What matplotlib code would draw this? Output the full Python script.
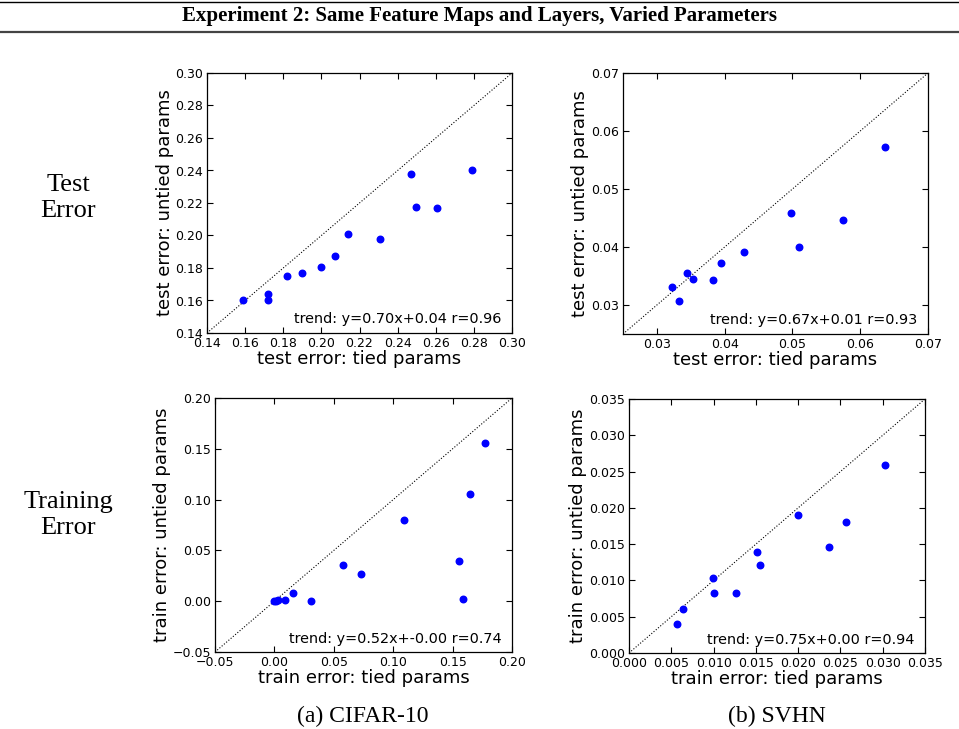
import matplotlib
matplotlib.use("Agg")
import matplotlib.pyplot as plt
from matplotlib.lines import Line2D

# CIFAR-10 test error (tied vs untied params)
cifar_test_tied = [0.159, 0.172, 0.172, 0.182, 0.190, 0.200, 0.207, 0.214, 0.231, 0.247, 0.2495, 0.2605, 0.279]
cifar_test_untied = [0.160, 0.164, 0.160, 0.175, 0.177, 0.1806, 0.1876, 0.2012, 0.1977, 0.2377, 0.2177, 0.2167, 0.2404]

# SVHN test error
svhn_test_tied = [0.0323, 0.0333, 0.0345, 0.0354, 0.0383, 0.0394, 0.0429, 0.0498, 0.0510, 0.0574, 0.0637]
svhn_test_untied = [0.0331, 0.0307, 0.0356, 0.0345, 0.0343, 0.0373, 0.0392, 0.0458, 0.0400, 0.0446, 0.0572]

# CIFAR-10 training error
cifar_train_tied = [0.000, 0.001, 0.003, 0.009, 0.016, 0.0305, 0.058, 0.073, 0.109, 0.155, 0.159, 0.1647, 0.1776]
cifar_train_untied = [0.000, 0.000, 0.001, 0.001, 0.0076, 0.000, 0.0352, 0.027, 0.0803, 0.0398, 0.002, 0.1056, 0.1556]

# SVHN training error
svhn_train_tied = [0.0057, 0.0064, 0.0099, 0.0101, 0.0127, 0.0151, 0.0155, 0.0200, 0.0236, 0.0256, 0.0303]
svhn_train_untied = [0.0040, 0.0060, 0.0104, 0.0083, 0.0083, 0.0139, 0.0121, 0.0190, 0.0146, 0.0180, 0.0259]

trend_labels = [
    "trend: y=0.70x+0.04 r=0.96",
    "trend: y=0.67x+0.01 r=0.93",
    "trend: y=0.52x+-0.00 r=0.74",
    "trend: y=0.75x+0.00 r=0.94",
]

W, H = 959, 729
fig = plt.figure(figsize=(W / 100, H / 100), dpi=100)


def px_axes(x0, y0, x1, y1):
    return fig.add_axes([x0 / W, 1 - y1 / H, (x1 - x0) / W, (y1 - y0) / H])


def scatter_panel(ax, xs, ys, lim, ticks, fmt, trend, kind):
    ax.plot(lim, lim, linestyle=":", color="black", linewidth=0.8)
    ax.plot(xs, ys, "o", color="blue", markeredgecolor="blue", markersize=4.7)
    ax.set_xlim(lim)
    ax.set_ylim(lim)
    ax.set_xticks(ticks)
    ax.set_yticks(ticks)
    labels = [fmt.format(t).replace("-", "\u2212") for t in ticks]
    ax.set_xticklabels(labels, fontsize=9)
    ax.set_yticklabels(labels, fontsize=9)
    ax.tick_params(direction="in", top=True, right=True, length=4, width=0.8, pad=3)
    for s in ax.spines.values():
        s.set_linewidth(0.9)
    ax.set_xlabel(f"{kind} error: tied params", fontsize=13, labelpad=0)
    ax.set_ylabel(f"{kind} error: untied params", fontsize=13, labelpad=1)
    ax.text(0.965, 0.025, trend, transform=ax.transAxes, ha="right", va="bottom", fontsize=10.4)


ax1 = px_axes(207, 73, 512, 333)
scatter_panel(ax1, cifar_test_tied, cifar_test_untied, [0.14, 0.30],
              [0.14, 0.16, 0.18, 0.20, 0.22, 0.24, 0.26, 0.28, 0.30], "{:.2f}", trend_labels[0], "test")

ax2 = px_axes(623, 73, 928, 334)
scatter_panel(ax2, svhn_test_tied, svhn_test_untied, [0.025, 0.07],
              [0.03, 0.04, 0.05, 0.06, 0.07], "{:.2f}", trend_labels[1], "test")

ax3 = px_axes(215, 398, 512, 652)
scatter_panel(ax3, cifar_train_tied, cifar_train_untied, [-0.05, 0.20],
              [-0.05, 0.00, 0.05, 0.10, 0.15, 0.20], "{:.2f}", trend_labels[2], "train")

ax4 = px_axes(629, 399, 925, 653)
scatter_panel(ax4, svhn_train_tied, svhn_train_untied, [0.0, 0.035],
              [0.0, 0.005, 0.010, 0.015, 0.020, 0.025, 0.030, 0.035], "{:.3f}", trend_labels[3], "train")

serif = "Liberation Serif"

# header rules and title
fig.add_artist(Line2D([0, 1], [1 - 1.5 / H, 1 - 1.5 / H], color="black", linewidth=1.0,
                      transform=fig.transFigure))
fig.add_artist(Line2D([0, 1], [1 - 32 / H, 1 - 32 / H], color="#444444", linewidth=1.6,
                      transform=fig.transFigure))
fig.text(0.5, 1 - 16 / H, "Experiment 2: Same Feature Maps and Layers, Varied Parameters",
         ha="center", va="center", fontsize=15, fontweight="bold", family=serif)

# row labels
fig.text(68 / W, 1 - 198 / H, "Test\nError", ha="center", va="center", fontsize=19,
         family=serif, linespacing=1.25)
fig.text(68 / W, 1 - 515 / H, "Training\nError", ha="center", va="center", fontsize=19,
         family=serif, linespacing=1.25)

# column captions
fig.text(363 / W, 1 - 716 / H, "(a) CIFAR-10", ha="center", va="center", fontsize=17, family=serif)
fig.text(777 / W, 1 - 716 / H, "(b) SVHN", ha="center", va="center", fontsize=17, family=serif)

fig.savefig("out.png", dpi=100)
